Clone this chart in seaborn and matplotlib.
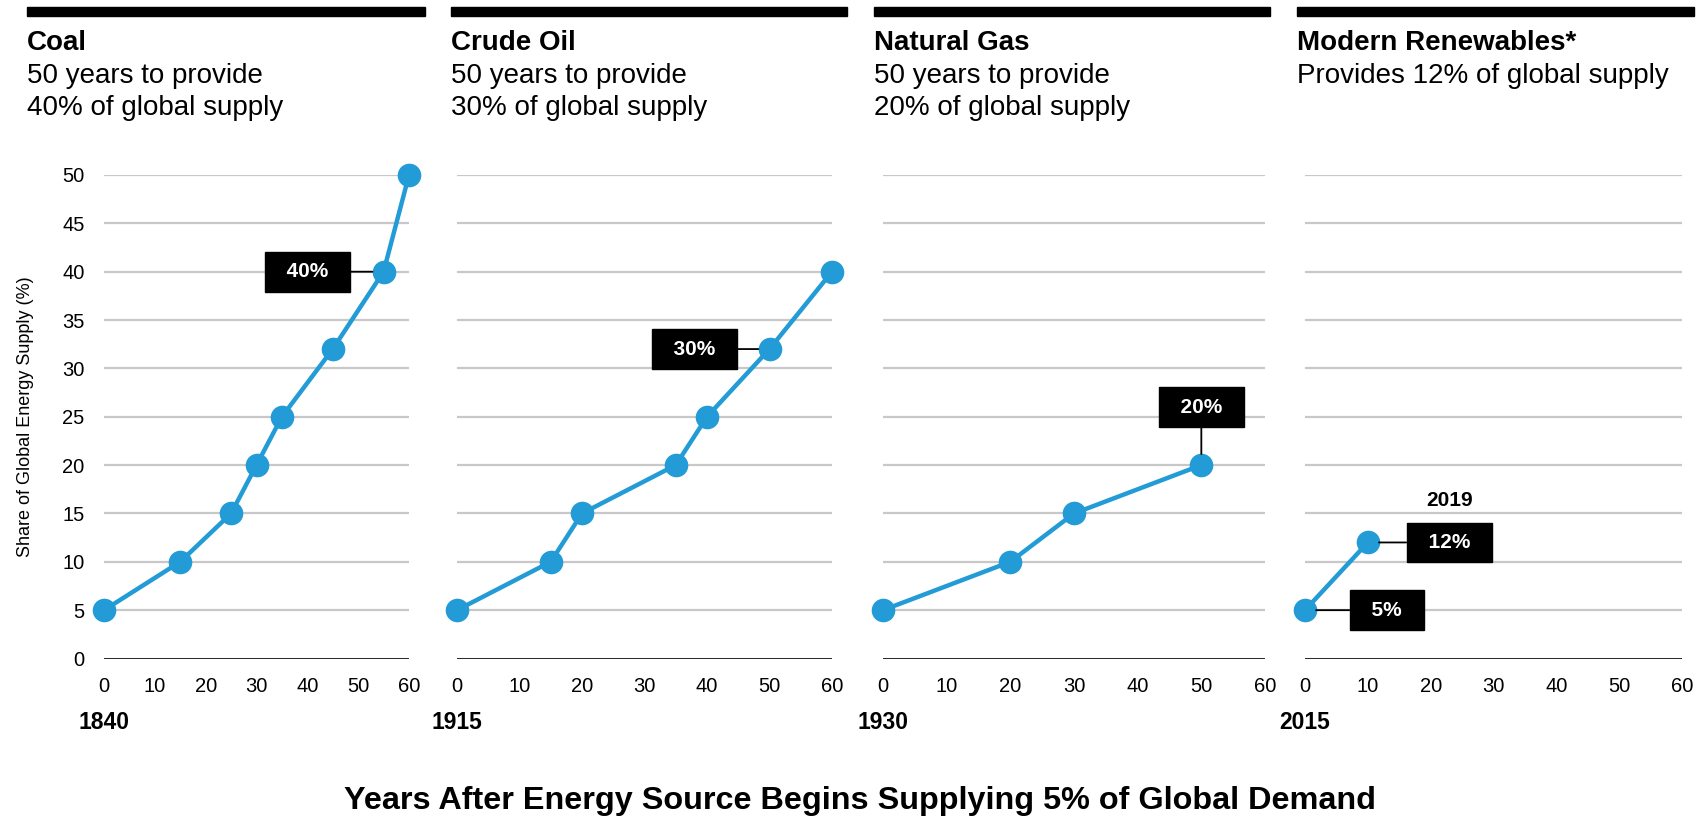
import numpy as np
import pandas as pd
import seaborn as sns
import matplotlib
matplotlib.use('Agg')
from matplotlib import pyplot as plt
from matplotlib.patches import Rectangle

# data
coal_years = [0, 15, 25, 30, 35, 45, 55, 60]
coal_share = [5, 10, 15, 20, 25, 32, 40, 50]
oil_years = [0, 15, 20, 35, 40, 50, 60]
oil_share = [5, 10, 15, 20, 25, 32, 40]
gas_years = [0, 20, 30, 50]
gas_share = [5, 10, 15, 20]
renew_years = [0, 10]
renew_share = [5, 12]

sources = ['Coal', 'Crude Oil', 'Natural Gas', 'Modern Renewables*']
subtitles = [['50 years to provide', '40% of global supply'],
             ['50 years to provide', '30% of global supply'],
             ['50 years to provide', '20% of global supply'],
             ['Provides 12% of global supply']]
start_years = ['1840', '1915', '1930', '2015']
x_ticks = [0, 10, 20, 30, 40, 50, 60]
y_ticks = [0, 5, 10, 15, 20, 25, 30, 35, 40, 45, 50]

# callouts: (panel, label, point, box position)
callouts = [
    (0, '40%', (55, 40), (40, 40)),
    (1, '30%', (50, 32), (38, 32)),
    (2, '20%', (50, 20), (50, 26)),
    (3, '12%', (10, 12), (23, 12)),
    (3, '5%', (0, 5), (13, 5)),
]

df = pd.concat([
    pd.DataFrame({'source': sources[0], 'years': coal_years, 'share': coal_share}),
    pd.DataFrame({'source': sources[1], 'years': oil_years, 'share': oil_share}),
    pd.DataFrame({'source': sources[2], 'years': gas_years, 'share': gas_share}),
    pd.DataFrame({'source': sources[3], 'years': renew_years, 'share': renew_share}),
])

sns.set_style('white')
plt.rcParams['font.family'] = ['Liberation Sans', 'DejaVu Sans']
plt.rcParams['text.color'] = 'black'
plt.rcParams['axes.labelcolor'] = 'black'
plt.rcParams['xtick.color'] = 'black'
plt.rcParams['ytick.color'] = 'black'

W, H = 1698, 821
fig = plt.figure(figsize=(W / 100, H / 100), dpi=100)

blue = '#229BD6'
grid_grey = '#c8c8c8'

# pixel layout
plot_x = [(104, 409), (457, 832), (883, 1265), (1305, 1682)]
col_x = [(27, 425), (451, 847), (874, 1270), (1297, 1694)]
y_top, y_bot = 175, 658.5

axes = []
for i, src in enumerate(sources):
    x0, x1 = plot_x[i]
    ax = fig.add_axes([x0 / W, (H - y_bot) / H, (x1 - x0) / W, (y_bot - y_top) / H])
    axes.append(ax)
    for y in y_ticks[1:]:
        ax.axhline(y, color=grid_grey, lw=1.6, zorder=0)
    ax.axhline(0, color='black', lw=1.2, zorder=1)

    sub = df[df['source'] == src]
    sns.lineplot(data=sub, x='years', y='share', ax=ax, color=blue, lw=3.2,
                 marker='o', markersize=17, markeredgewidth=0, clip_on=False,
                 zorder=4)

    ax.set_xlim(0, 60)
    ax.set_ylim(0, 50)
    ax.set_xticks(x_ticks)
    ax.set_yticks(y_ticks)
    ax.tick_params(axis='both', length=0, labelsize=14.5, colors='black')
    ax.tick_params(axis='x', pad=13)
    ax.tick_params(axis='y', pad=14)
    if i > 0:
        ax.set_yticklabels([])
    ax.set_xlabel('')
    ax.set_ylabel('')
    for s in ax.spines.values():
        s.set_visible(False)
    ax.patch.set_alpha(0)

    ax.text(0, -0.133, start_years[i], transform=ax.get_xaxis_transform(),
            ha='center', va='center', fontsize=16.5, fontweight='bold')

    # header bar and titles
    cx0, cx1 = col_x[i]
    fig.patches.append(Rectangle((cx0 / W, 1 - 16 / H), (cx1 - cx0) / W, 9 / H,
                                 transform=fig.transFigure, color='black'))
    fig.text(cx0 / W, 1 - 43 / H, src, fontsize=20, fontweight='bold',
             ha='left', va='center')
    for k, line in enumerate(subtitles[i]):
        fig.text(cx0 / W, 1 - (76 + 32 * k) / H, line, fontsize=20,
                 ha='left', va='center')

axes[0].set_ylabel('Share of Global Energy Supply (%)', fontsize=13)
axes[0].yaxis.set_label_coords(-0.228, 0.5)

for panel, label, pt, box in callouts:
    axes[panel].annotate(
        '  ' + label + '  ', xy=pt, xytext=box, textcoords='data',
        ha='center', va='center', fontsize=15, fontweight='bold', color='white',
        bbox=dict(boxstyle='square,pad=0.5', fc='black', ec='black'),
        arrowprops=dict(arrowstyle='-', color='black', lw=1.3,
                        shrinkA=0, shrinkB=8),
        annotation_clip=False, zorder=5)

axes[3].text(23, 16.3, '2019', ha='center', va='center', fontsize=15,
             fontweight='bold')

fig.text(860 / W, 1 - 801 / H,
         'Years After Energy Source Begins Supplying 5% of Global Demand',
         ha='center', va='center', fontsize=23.3, fontweight='bold')

fig.savefig('out.png', dpi=100)
